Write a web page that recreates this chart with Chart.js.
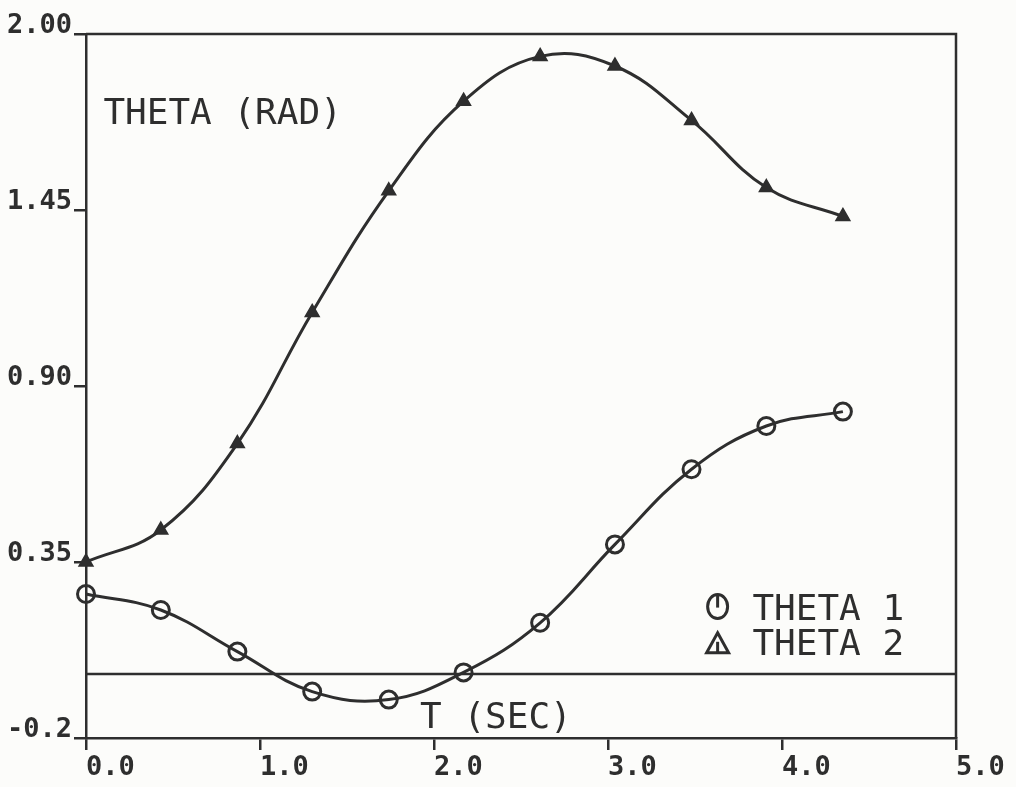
<!DOCTYPE html>
<html>
<head>
<meta charset="utf-8">
<title>Theta vs time</title>
<script src="https://cdn.jsdelivr.net/npm/chart.js@4.4.1/dist/chart.umd.min.js"></script>
<style>
  html, body { margin: 0; padding: 0; background: #fcfcfa; }
  canvas { display: block; }
</style>
</head>
<body>
<canvas id="thetaChart" width="1016" height="787"></canvas>
<script>
// -------------------------------
// Data
// -------------------------------
const timeSec = [0.0, 0.43, 0.87, 1.30, 1.74, 2.17, 2.61, 3.04, 3.48, 3.91, 4.35];
const theta1 = [0.25, 0.20, 0.07, -0.055, -0.08, 0.005, 0.16, 0.405, 0.64, 0.775, 0.82];
const theta2 = [0.35, 0.45, 0.72, 1.13, 1.51, 1.79, 1.93, 1.90, 1.73, 1.52, 1.43];
const xTicks = [0, 1, 2, 3, 4, 5];
const yTicks = [-0.2, 0.35, 0.9, 1.45, 2.0];
const yTickLabels = ['-0.2', '0.35', '0.90', '1.45', '2.00'];
const seriesNames = ['THETA 1', 'THETA 2'];

const INK = '#2e2e2e';
const MONO = '"DejaVu Sans Mono", "Liberation Mono", monospace';

const toPoints = ys => ys.map((v, i) => ({ x: timeSec[i], y: v }));

// -------------------------------
// Frame, zero line, in-plot labels, legend
// -------------------------------
const plotDecor = {
  id: 'plotDecor',
  beforeDraw(chart) {
    const ctx = chart.ctx;
    ctx.save();
    ctx.fillStyle = '#fcfcfa';
    ctx.fillRect(0, 0, chart.width, chart.height);
    ctx.restore();
  },
  beforeDatasetsDraw(chart) {
    const { ctx, chartArea: a, scales: { y } } = chart;
    ctx.save();
    ctx.strokeStyle = INK;
    ctx.lineWidth = 2.5;
    ctx.beginPath();
    ctx.moveTo(a.left, a.top);
    ctx.lineTo(a.right, a.top);
    ctx.lineTo(a.right, a.bottom);
    ctx.stroke();
    const y0 = y.getPixelForValue(0);
    ctx.beginPath();
    ctx.moveTo(a.left, y0);
    ctx.lineTo(a.right, y0);
    ctx.stroke();
    ctx.restore();
  },
  afterDraw(chart) {
    const { ctx, scales: { x, y } } = chart;
    ctx.save();
    ctx.fillStyle = INK;
    ctx.strokeStyle = INK;
    ctx.font = '36px ' + MONO;
    ctx.textAlign = 'left';
    ctx.textBaseline = 'alphabetic';
    ctx.fillText('THETA (RAD)', x.getPixelForValue(0.1), y.getPixelForValue(1.72));
    ctx.fillText('T (SEC)', x.getPixelForValue(1.92), y.getPixelForValue(-0.17));

    // legend
    const symX = x.getPixelForValue(3.63);
    const txtX = x.getPixelForValue(3.83);
    const base1 = y.getPixelForValue(0.17);
    const base2 = y.getPixelForValue(0.06);
    ctx.fillText(seriesNames[0], txtX, base1);
    ctx.fillText(seriesNames[1], txtX, base2);

    ctx.lineWidth = 3;
    // circle symbol with a bar
    let cy = base1 - 13;
    ctx.beginPath();
    ctx.ellipse(symX, cy, 10, 12, 0, 0, Math.PI * 2);
    ctx.stroke();
    ctx.beginPath();
    ctx.moveTo(symX, cy - 12);
    ctx.lineTo(symX, cy + 1);
    ctx.stroke();
    // triangle symbol
    cy = base2 - 11;
    ctx.beginPath();
    ctx.moveTo(symX, cy - 11);
    ctx.lineTo(symX + 11, cy + 9);
    ctx.lineTo(symX - 11, cy + 9);
    ctx.closePath();
    ctx.stroke();
    ctx.beginPath();
    ctx.moveTo(symX, cy - 2);
    ctx.lineTo(symX, cy + 9);
    ctx.stroke();
    ctx.restore();
  }
};

// -------------------------------
// Chart.js
// -------------------------------
const axisFont = { family: MONO, size: 27, weight: 'bold' };

new Chart(document.getElementById('thetaChart'), {
  type: 'scatter',
  data: {
    datasets: [
      {
        label: seriesNames[0],
        data: toPoints(theta1),
        showLine: true,
        tension: 0.4,
        borderColor: INK,
        borderWidth: 3,
        pointStyle: 'circle',
        pointRadius: 8.5,
        pointBorderWidth: 3,
        pointBorderColor: INK,
        pointBackgroundColor: 'rgba(0,0,0,0)',
        clip: false
      },
      {
        label: seriesNames[1],
        data: toPoints(theta2),
        showLine: true,
        tension: 0.4,
        borderColor: INK,
        borderWidth: 3,
        pointStyle: 'triangle',
        pointRadius: 8,
        pointBorderWidth: 1.5,
        pointBorderColor: INK,
        pointBackgroundColor: INK,
        clip: false
      }
    ]
  },
  options: {
    responsive: false,
    animation: false,
    devicePixelRatio: 1,
    layout: { padding: { left: 0, top: 34, right: 60, bottom: 0 } },
    plugins: { legend: { display: false }, tooltip: { enabled: false } },
    events: [],
    scales: {
      x: {
        type: 'linear',
        min: 0,
        max: 5,
        afterBuildTicks: s => { s.ticks = xTicks.map(v => ({ value: v })); },
        afterFit: s => { s.height = 49; },
        ticks: {
          callback: v => Number(v).toFixed(1),
          align: 'start',
          padding: 2,
          color: INK,
          font: axisFont,
          maxRotation: 0
        },
        grid: { drawOnChartArea: false, tickLength: 12, color: INK, lineWidth: 2.5 },
        border: { display: true, color: INK, width: 2.5 }
      },
      y: {
        type: 'linear',
        min: -0.2,
        max: 2.0,
        afterBuildTicks: s => { s.ticks = yTicks.map(v => ({ value: v })); },
        afterFit: s => { s.width = 86; },
        ticks: {
          callback: (v, i) => yTickLabels[i],
          padding: 2,
          labelOffset: -8,
          color: INK,
          font: axisFont
        },
        grid: { drawOnChartArea: false, tickLength: 12, color: INK, lineWidth: 2.5 },
        border: { display: true, color: INK, width: 2.5 }
      }
    }
  },
  plugins: [plotDecor]
});
</script>
</body>
</html>
